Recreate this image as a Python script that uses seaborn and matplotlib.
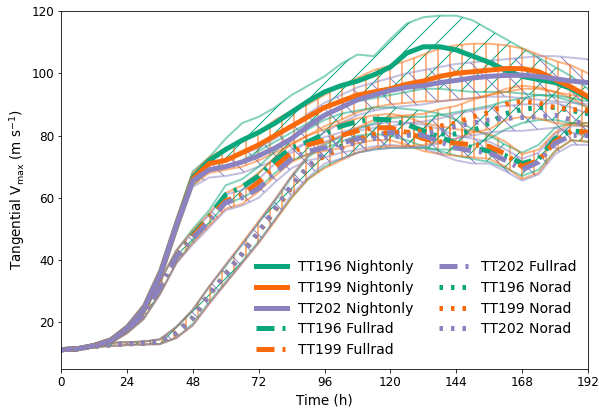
import matplotlib
matplotlib.use("Agg")
import matplotlib.pyplot as plt
import seaborn as sns

# forecast lead time (h)
hours = list(range(0, 193, 6))

# --- Nightonly ensembles (mean, min, max) ---
tt196_night = [11.2, 11.5, 12.5, 14, 18, 24, 35, 51, 66.5, 72, 75.5, 78.5, 81, 84, 87.5, 91, 94, 96, 97.5, 99.5,
               102, 106.5, 108.5, 108.5, 107.5, 105.5, 103.5, 101, 99, 98, 97, 95, 92]
tt196_night_hi = [11.5, 11.9, 13.0, 14.8, 19.0, 25.5, 37, 53, 68.5, 73, 79, 84, 86, 89, 93, 96, 99, 103, 106, 105.5,
                  111, 116, 118, 118.5, 118.5, 117, 114, 111, 108, 105, 102, 99, 95]
tt196_night_lo = [11.0, 11.2, 12.0, 13.3, 17.0, 22.5, 33, 49, 64, 69, 70, 72, 75, 78, 81, 84, 87, 89, 91, 92,
                  93, 94, 95, 95, 94.5, 94, 94, 94, 93.5, 93, 92.5, 91, 89]
tt199_night = [11.2, 11.5, 12.5, 14, 18, 24, 35, 51, 66, 71, 72, 74.5, 77, 80, 83, 86, 89, 91, 93, 94,
               95, 96.5, 97.5, 99, 100, 100.5, 101, 101.5, 101.5, 100.5, 98, 95.5, 92.5]
tt199_night_hi = [11.5, 11.9, 13.0, 14.8, 19.0, 25.5, 37, 53, 68, 73, 76, 78, 81, 85, 88, 90, 93, 96, 98.5, 101,
                  102.5, 104, 106, 108, 109, 109.5, 109.5, 109, 108, 106, 104, 102.5, 100]
tt199_night_lo = [11.0, 11.2, 12.0, 13.3, 17.0, 22.5, 33, 49, 64, 68, 69, 70, 72, 74.5, 77, 80, 83, 85, 87.5, 89,
                  90, 90.5, 91, 91, 91.5, 92, 93, 94, 95, 95, 94, 92, 89]
tt202_night = [11.2, 11.5, 12.5, 14, 18, 24, 35, 51, 65.5, 69, 70, 71.5, 73.5, 76, 79, 83, 86.5, 89, 91.5, 93,
               94.5, 95.5, 96, 97, 97.7, 98.5, 99, 99.3, 99.4, 99, 98.2, 97.5, 97]
tt202_night_hi = [11.5, 11.9, 13.0, 14.8, 19.0, 25.5, 37, 53, 67, 71, 72.5, 74, 76, 79, 83, 87, 90.5, 93, 95.5, 97,
                  98.5, 100, 101, 102, 103, 103.5, 104, 104.5, 105, 105.5, 105.5, 105, 104.5]
tt202_night_lo = [11.0, 11.2, 12.0, 13.3, 17.0, 22.5, 33, 49, 63.5, 66.5, 67, 68, 70, 72, 74.5, 78, 81, 84, 86.5, 88,
                  89, 89.5, 90, 91, 91.5, 92, 92.5, 92.5, 92, 91.5, 91, 90.5, 90]

# --- Fullrad ensembles ---
tt196_full = [11.2, 11.5, 12.5, 14, 17.5, 22.5, 31, 41, 48, 54, 61, 63.5, 67, 72, 76, 78, 80.5, 83, 84.5, 85.3,
              85, 83.5, 81.5, 79.5, 77.5, 76, 75, 73.5, 71, 72.5, 79, 81.5, 81]
tt196_full_hi = [11.5, 11.9, 13.0, 14.8, 18.5, 24, 33, 43, 50, 56, 64, 66, 70, 75, 79, 82, 85, 87, 88, 89,
                 89, 88.5, 88, 87, 85, 82, 80, 77, 74.5, 77, 82.5, 84, 84]
tt196_full_lo = [11.0, 11.2, 12.0, 13.3, 16.5, 21, 29, 39, 46, 52, 58, 60, 63, 68, 72, 74, 76, 78, 80, 80.5,
                 80, 78.5, 76.5, 75, 73.5, 72.5, 71.5, 69.5, 67, 69, 75, 78.5, 78]
tt199_full = [11.2, 11.5, 12.5, 14, 17.5, 22.5, 31, 41, 47.5, 53.5, 59, 61, 65, 70, 74.5, 77, 78.5, 80, 81.5, 82.5,
              82.5, 81, 79, 78, 77.5, 77, 76.5, 74, 70, 72, 78, 81.5, 81]
tt199_full_hi = [11.5, 11.9, 13.0, 14.8, 18.5, 24, 33, 43, 49.5, 55, 61.5, 64, 68, 73, 77.5, 80, 82, 84, 85.5, 86.5,
                 87, 86, 84, 83, 82, 81.5, 80.5, 78, 74, 75.5, 81, 84, 84]
tt199_full_lo = [11.0, 11.2, 12.0, 13.3, 16.5, 21, 29, 39, 45.5, 51, 56.5, 58, 62, 67, 71.5, 74, 75, 76, 77.5, 78.5,
                 78.5, 77, 75, 74, 73.5, 73, 72.5, 70, 66, 68, 75, 78.5, 78]
tt202_full = [11.2, 11.5, 12.5, 14, 17.5, 22.5, 31, 41, 47, 52.5, 58.5, 60, 63, 68, 72.5, 75, 76, 77.5, 79, 80,
              81, 80.5, 80, 78, 76, 75, 74.5, 72, 69, 71.5, 77.5, 80, 80]
tt202_full_hi = [11.5, 11.9, 13.0, 14.8, 18.5, 24, 33, 43, 49, 54.5, 61, 62.5, 66, 71, 75.5, 78, 79.5, 81, 82.5, 83.5,
                 84.5, 84, 83.5, 82, 80, 79, 78, 75.5, 72.5, 74.5, 80.5, 83, 83]
tt202_full_lo = [11.0, 11.2, 12.0, 13.3, 16.5, 21, 29, 39, 45, 50.5, 56, 57.5, 60, 65, 69.5, 72, 73, 74.5, 75.5, 76.5,
                 77, 76.5, 76, 74, 72, 71, 71, 68.5, 65.5, 67.5, 74, 77, 77]

# --- Norad ensembles ---
tt196_norad = [11.2, 11.5, 12.3, 12.8, 13.1, 13.3, 13.8, 16.5, 21.5, 29, 35.5, 42, 49, 56, 63.5, 70, 74, 76.5, 78.5, 80,
               80.5, 80.5, 80.5, 80.5, 80.5, 81.5, 84, 87, 88.4, 89, 89, 88, 87]
tt196_norad_hi = [11.5, 11.9, 12.8, 13.4, 13.6, 13.8, 14.5, 18.5, 24, 31.5, 38, 45, 52, 59, 66.5, 73, 77, 79.5, 82, 84,
                  85.5, 86, 86, 86.5, 87.5, 88.5, 89.5, 91, 92, 93, 93, 92, 91]
tt196_norad_lo = [11.0, 11.2, 12.0, 12.4, 12.7, 12.9, 13, 15, 19.5, 26.5, 33, 39.5, 46, 53, 60, 66, 70, 72.5, 74.5, 75.5,
                  76, 76, 76, 75.5, 75.5, 77, 79, 82, 84, 85, 85, 84, 83]
tt199_norad = [11.2, 11.5, 12.3, 12.8, 13.1, 13.3, 13.8, 16.5, 21.3, 28.8, 35.5, 42, 49, 56, 63.5, 70, 73.5, 76, 78.5, 80.5,
               81, 81, 81.5, 83, 84, 86, 87.4, 90, 91, 90.5, 89, 88.4, 88]
tt199_norad_hi = [11.5, 11.9, 12.8, 13.4, 13.6, 13.8, 14.5, 18.5, 24, 31.5, 38.5, 45.5, 52.5, 59.5, 67, 73.5, 77.5, 80, 82.5, 85,
                  86, 86.5, 87, 88.5, 89.5, 91.5, 93, 95, 96, 95.5, 94, 93, 92]
tt199_norad_lo = [11.0, 11.2, 12.0, 12.4, 12.7, 12.9, 13, 15, 19, 26, 32.5, 39, 45.5, 52.5, 60, 66, 69.5, 72, 74.5, 76,
                  76.5, 76.5, 77, 78, 79, 81, 82, 85, 86, 85.5, 84, 83.5, 83]
tt202_norad = [11.2, 11.5, 12.3, 12.8, 13.1, 13.3, 13.8, 16.5, 21.3, 28.8, 35.5, 42, 49, 56.5, 64, 70, 74.5, 76, 78, 79,
               79.5, 80, 80.5, 81.5, 83, 84, 85, 85.5, 85.8, 86, 86.5, 85, 83.2]
tt202_norad_hi = [11.5, 11.9, 12.8, 13.4, 13.6, 13.8, 14.5, 18.5, 24, 31.5, 38.5, 45, 52, 59.5, 67, 73.5, 78, 79.5, 81.5, 82.5,
                  83, 84, 84.5, 85.5, 87, 88, 89, 89.5, 90, 90, 90.5, 89, 87]
tt202_norad_lo = [11.0, 11.2, 12.0, 12.4, 12.7, 12.9, 13, 15, 19, 26, 32.5, 39, 45.5, 53, 61, 66.5, 71, 72.5, 74.5, 75.5,
                  76, 76, 76.5, 77.5, 79, 80, 81, 81.5, 81.5, 82, 82.5, 81, 79.5]

cases = ["TT196", "TT199", "TT202"]
experiments = ["Nightonly", "Fullrad", "Norad"]
runs = {
    ("TT196", "Nightonly"): (tt196_night, tt196_night_lo, tt196_night_hi),
    ("TT199", "Nightonly"): (tt199_night, tt199_night_lo, tt199_night_hi),
    ("TT202", "Nightonly"): (tt202_night, tt202_night_lo, tt202_night_hi),
    ("TT196", "Fullrad"): (tt196_full, tt196_full_lo, tt196_full_hi),
    ("TT199", "Fullrad"): (tt199_full, tt199_full_lo, tt199_full_hi),
    ("TT202", "Fullrad"): (tt202_full, tt202_full_lo, tt202_full_hi),
    ("TT196", "Norad"): (tt196_norad, tt196_norad_lo, tt196_norad_hi),
    ("TT199", "Norad"): (tt199_norad, tt199_norad_lo, tt199_norad_hi),
    ("TT202", "Norad"): (tt202_norad, tt202_norad_lo, tt202_norad_hi),
}

colors = {"TT196": "#0aa67c", "TT199": "#fa6a0a", "TT202": "#8b83c1"}
hatches = {"TT196": "/", "TT199": "|", "TT202": "\\"}
styles = {"Nightonly": "-", "Fullrad": (0, (3.6, 1.6, 0.6, 1.6)), "Norad": (0, (0.7, 1.6))}

fig = plt.figure(figsize=(599 / 72, 409 / 72), dpi=72)
ax = fig.add_axes([61 / 599, 1 - 369 / 409, 527 / 599, 358 / 409])

# ensemble spread: hatched band + light edge lines
for exp in experiments:
    for tt in cases:
        mean, lo, hi = runs[(tt, exp)]
        c = colors[tt]
        ax.fill_between(hours, lo, hi, facecolor="none", edgecolor=c, hatch=hatches[tt], linewidth=0)
        sns.lineplot(x=hours, y=lo, color=c, alpha=0.5, lw=2, ax=ax)
        sns.lineplot(x=hours, y=hi, color=c, alpha=0.5, lw=2, ax=ax)

# ensemble means
for exp in experiments:
    for tt in cases:
        mean, lo, hi = runs[(tt, exp)]
        sns.lineplot(x=hours, y=mean, color=colors[tt], lw=5, linestyle=styles[exp],
                     label=f"{tt} {exp}", ax=ax)

ax.set_xlim(0, 192)
ax.set_ylim(5, 120)
ax.set_xticks(range(0, 193, 24))
ax.set_yticks(range(20, 121, 20))
ax.tick_params(labelsize=12)
ax.set_xlabel("Time (h)", fontsize=13.5)
ax.set_ylabel(r"Tangential V$_{\rm max}$ (m s$^{-1}$)", fontsize=13.5)
ax.legend(loc="lower right", ncol=2, frameon=False, fontsize=14, handlelength=2.2,
          labelspacing=0.48, columnspacing=1.8, borderaxespad=0.45)

fig.savefig("out.png", dpi=72)
